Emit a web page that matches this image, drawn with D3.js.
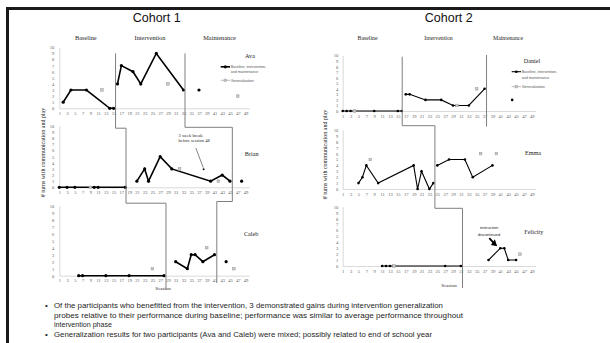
<!DOCTYPE html>
<html>
<head>
<meta charset="utf-8">
<script src="https://cdn.jsdelivr.net/npm/d3@7"></script>
<style>
  body { margin: 0; background: #fff; }
  text { font-family: "Liberation Serif", "Times New Roman", serif; }
  .tick text { fill: #595959; font-size: 4.5px; font-family: "Liberation Serif", serif; }
  .sans { font-family: "Liberation Sans", Arial, sans-serif; }
</style>
</head>
<body>
<svg id="chart" width="610" height="343"></svg>
<script>
// ---- data ----
var sessionTicks = d3.range(1, 50, 2);
var yTicks = d3.range(0, 11);

// [session, turns]
var avaBaseline = [[2, 1], [4, 3], [8, 3], [14, 0], [15, 0]];
var avaIntervention = [[16, 4], [17, 7], [20, 6], [22, 4], [26, 9], [33, 3]];
var avaMaintenance = [[37, 3]];
var avaGeneralization = [[12, 3], [29, 4], [47, 2]];

var brianBaseline = [[1, 0], [3, 0], [5, 0], [10, 0], [11, 0], [18, 0]];
var brianIntervention = [[21, 1], [23, 3], [24, 1], [27, 5], [30, 3], [40, 1], [43, 2], [45, 1]];
var brianMaintenance = [[48, 1]];
var brianGeneralization = [[9, 0], [32, 3], [42, 1]];

var calebBaseline = [[6, 0], [7, 0], [13, 0], [19, 0], [28, 0]];
var calebIntervention = [[31, 2], [34, 1], [35, 3], [36, 3], [38, 2], [41, 3]];
var calebMaintenance = [[44, 2]];
var calebGeneralization = [[25, 1], [39, 4], [46, 1]];

var danielBaseline = [[1, 0], [2, 0], [3, 0], [9, 0], [15, 0], [16, 0]];
var danielIntervention = [[17, 3], [18, 3], [22, 2], [26, 2], [29, 1], [33, 1], [37, 4]];
var danielMaintenance = [[44, 2]];
var danielGeneralization = [[4, 0], [30, 1], [35, 4]];

var emmaBaseline = [[5, 1], [6, 2], [7, 4], [10, 1], [19, 4], [20, 0], [21, 3], [23, 0], [24, 1]];
var emmaIntervention = [[25, 4], [28, 5], [32, 5], [34, 2], [39, 4]];
var emmaGeneralization = [[8, 5], [36, 6], [40, 6]];

var felicityBaseline = [[11, 0], [12, 0], [13, 0], [27, 0], [31, 0]];
var felicityIntervention = [[38, 1], [41, 3], [42, 3], [43, 1], [45, 1]];
var felicityGeneralization = [[14, 0], [46, 2]];

// phase change positions (between sessions), one per participant
var c1BaselineEnd = [15.5, 18.2, 28.5];
var c1InterventionEnd = [33.4, 45.6, 41.6];
var c2BaselineEnd = [16.1, 24.4, 31.4];
var c2InterventionEnd = [37.5];

var phaseNames = ["Baseline", "Intervention", "Maintenance"];
var yTitle = "# turns with communication and play";
var bullets = [
  "Of the participants who benefitted from the intervention, 3 demonstrated gains during intervention generalization",
  "probes relative to their performance during baseline; performance was similar to average performance throughout",
  "intervention phase",
  "Generalization results for two participants (Ava and Caleb) were mixed; possibly related to end of school year"
];

// ---- layout ----
var svg = d3.select("#chart");
svg.append("rect").attr("width", 610).attr("height", 343).attr("fill", "#fff");
svg.append("path").attr("d", "M610,8.5H7.5V343")
  .attr("fill", "none").attr("stroke", "#1a1a1a").attr("stroke-width", 3);

var x1 = d3.scaleLinear().domain([1, 50]).range([59.3, 249.4]);
var x2 = d3.scaleLinear().domain([1, 50]).range([342.7, 535.8]);

var cohorts = [
  {
    title: "Cohort 1", titleX: 156.7, x: x1, lw: 1.6, r: 1.6, pad: 5,
    phaseX: [85.8, 150, 219.5], phaseSize: 6.3, yTitleX: 43.3, yTitleY: 152.5,
    sessionX: 163, sessionY: 290,
    panels: [
      { name: "Ava", y: [108.3, 47.3], nx: 250, ny: 58, base: avaBaseline, inter: avaIntervention, maint: avaMaintenance, gen: avaGeneralization },
      { name: "Brian", y: [187.3, 126], nx: 251.7, ny: 155.5, base: brianBaseline, inter: brianIntervention, maint: brianMaintenance, gen: brianGeneralization },
      { name: "Caleb", y: [275.7, 205.7], nx: 251.2, ny: 236, base: calebBaseline, inter: calebIntervention, maint: calebMaintenance, gen: calebGeneralization }
    ],
    stairs: [[c1BaselineEnd, [53.4, 128.2, 203.2, 290]], [c1InterventionEnd, [53.4, 127.3, 201.5, 283]]],
    legend: { x: 220.7, y1: 66.8, y2: 71.3, y3: 80.3 }
  },
  {
    title: "Cohort 2", titleX: 448.8, x: x2, lw: 1.1, r: 1.3, pad: 4.4,
    phaseX: [367.5, 438.5, 508], phaseSize: 5.8, yTitleX: 325, yTitleY: 154.5,
    sessionX: 449, sessionY: 287,
    panels: [
      { name: "Daniel", y: [111, 55.5], nx: 532, ny: 63, base: danielBaseline, inter: danielIntervention, maint: danielMaintenance, gen: danielGeneralization },
      { name: "Emma", y: [189, 130], nx: 533, ny: 155, base: emmaBaseline, inter: emmaIntervention, maint: [], gen: emmaGeneralization },
      { name: "Felicity", y: [266, 206.7], nx: 533.8, ny: 234, base: felicityBaseline, inter: felicityIntervention, maint: [], gen: felicityGeneralization }
    ],
    stairs: [[c2BaselineEnd, [56.7, 125.7, 208.3, 288]], [c2InterventionEnd, [55, 126.7]]],
    legend: { x: 511.7, y1: 71.7, y2: 77.5, y3: 86.7 }
  }
];

cohorts.forEach(function (c) {
  var g = svg.append("g");
  var x = c.x;

  g.append("text").attr("class", "sans").attr("x", c.titleX).attr("y", 22)
    .attr("text-anchor", "middle").attr("font-size", 12.5).attr("fill", "#111").text(c.title);

  phaseNames.forEach(function (p, i) {
    g.append("text").attr("x", c.phaseX[i]).attr("y", 39.5).attr("text-anchor", "middle")
      .attr("font-size", c.phaseSize).attr("fill", "#222").text(p);
  });

  g.append("text").attr("transform", "translate(" + c.yTitleX + "," + c.yTitleY + ") rotate(-90)")
    .attr("text-anchor", "middle").attr("dy", "0.35em").attr("font-size", 6)
    .attr("fill", "#222").text(yTitle);

  g.append("text").attr("x", c.sessionX).attr("y", c.sessionY).attr("text-anchor", "middle")
    .attr("font-size", 5).attr("fill", "#222").text("Session");

  c.panels.forEach(function (p) {
    var y = d3.scaleLinear().domain([0, 10]).range(p.y);
    var pg = g.append("g");

    var xa = pg.append("g").attr("transform", "translate(0," + y(0) + ")")
      .call(d3.axisBottom(x).tickValues(sessionTicks).tickSize(0).tickPadding(3.5).tickFormat(d3.format("d")));
    xa.select(".domain").attr("stroke", "#d0d0d0").attr("stroke-width", 0.8);

    var ya = pg.append("g").attr("transform", "translate(" + x(1) + ",0)")
      .call(d3.axisLeft(y).tickValues(yTicks).tickSize(0).tickPadding(c.pad));
    ya.select(".domain").attr("stroke", "#d0d0d0").attr("stroke-width", 0.8);

    var line = d3.line().x(function (d) { return x(d[0]); }).y(function (d) { return y(d[1]); });

    [p.base, p.inter, p.maint].forEach(function (s) {
      if (s.length > 1) {
        pg.append("path").attr("d", line(s)).attr("fill", "none")
          .attr("stroke", "#000").attr("stroke-width", c.lw);
      }
      pg.selectAll(null).data(s).enter().append("circle")
        .attr("cx", function (d) { return x(d[0]); })
        .attr("cy", function (d) { return y(d[1]); })
        .attr("r", c.r).attr("fill", "#000");
    });

    pg.selectAll(null).data(p.gen).enter().append("rect")
      .attr("x", function (d) { return x(d[0]) - 1.3; })
      .attr("y", function (d) { return y(d[1]) - 1.3; })
      .attr("width", 2.6).attr("height", 2.6)
      .attr("fill", "#c8c8c8").attr("stroke", "#9a9a9a").attr("stroke-width", 0.5);

    pg.append("text").attr("x", p.nx).attr("y", p.ny).attr("text-anchor", "middle")
      .attr("font-size", 6.2).attr("fill", "#222").text(p.name);
  });

  // phase change lines
  c.stairs.forEach(function (st) {
    var xs = st[0], ys = st[1];
    var d = "M" + x(xs[0]) + "," + ys[0];
    xs.forEach(function (s, i) {
      if (i > 0) d += "H" + x(s);
      d += "V" + ys[i + 1];
    });
    g.append("path").attr("d", d).attr("fill", "none")
      .attr("stroke", "#7f7f7f").attr("stroke-width", 1);
  });

  // legend
  var L = c.legend;
  g.append("line").attr("x1", L.x).attr("x2", L.x + 9.3).attr("y1", L.y1).attr("y2", L.y1)
    .attr("stroke", "#000").attr("stroke-width", c.lw);
  g.append("circle").attr("cx", L.x + 4.6).attr("cy", L.y1).attr("r", c.r).attr("fill", "#000");
  g.append("text").attr("class", "sans").attr("x", L.x + 10).attr("y", L.y1).attr("dy", "0.35em")
    .attr("font-size", 3.6).attr("fill", "#555").text("Baseline, intervention,");
  g.append("text").attr("class", "sans").attr("x", L.x + 10).attr("y", L.y2).attr("dy", "0.35em")
    .attr("font-size", 3.6).attr("fill", "#555").text("and maintenance");
  g.append("line").attr("x1", L.x).attr("x2", L.x + 9.3).attr("y1", L.y3).attr("y2", L.y3)
    .attr("stroke", "#aaa").attr("stroke-width", 0.8);
  g.append("rect").attr("x", L.x + 3.4).attr("y", L.y3 - 1.2).attr("width", 2.4).attr("height", 2.4)
    .attr("fill", "#c8c8c8").attr("stroke", "#9a9a9a").attr("stroke-width", 0.5);
  g.append("text").attr("class", "sans").attr("x", L.x + 10).attr("y", L.y3).attr("dy", "0.35em")
    .attr("font-size", 3.6).attr("fill", "#555").text("Generalization");
});

// annotations
var yBrian = d3.scaleLinear().domain([0, 10]).range([187.3, 126]);
svg.append("text").attr("x", 178.5).attr("y", 136.5).attr("font-size", 4.5).attr("fill", "#222").text("3 week break");
svg.append("text").attr("x", 178.5).attr("y", 141.8).attr("font-size", 4.5).attr("fill", "#222").text("before session 48");
svg.append("line").attr("x1", x1(36.2)).attr("y1", yBrian(6.4)).attr("x2", x1(38.1)).attr("y2", yBrian(3.2))
  .attr("stroke", "#333").attr("stroke-width", 0.6);
svg.append("circle").attr("cx", x1(38.2)).attr("cy", yBrian(2.95)).attr("r", 1).attr("fill", "#111");

var yFel = d3.scaleLinear().domain([0, 10]).range([266, 206.7]);
svg.append("text").attr("class", "sans").attr("x", 489).attr("y", 229).attr("text-anchor", "middle")
  .attr("font-size", 4).attr("fill", "#222").text("instruction");
svg.append("text").attr("class", "sans").attr("x", 489).attr("y", 235.6).attr("text-anchor", "middle")
  .attr("font-size", 4).attr("fill", "#222").text("discontinued");
svg.append("line").attr("x1", x2(38.2)).attr("y1", yFel(4.7)).attr("x2", x2(39.3)).attr("y2", yFel(3.9))
  .attr("stroke", "#000").attr("stroke-width", 1.8);
svg.append("path")
  .attr("d", "M" + (x2(40.2)) + "," + yFel(3.35) + "L" + (x2(38.6)) + "," + yFel(3.55) + "L" + (x2(39.6)) + "," + yFel(4.5) + "Z")
  .attr("fill", "#000");

// bullet text
var bx = 54, by = [308, 317.5, 327, 336.5], bw = [389, 409, 58, 378];
bullets.forEach(function (t, i) {
  svg.append("text").attr("class", "sans").attr("x", bx).attr("y", by[i])
    .attr("font-size", 8).attr("fill", "#262626")
    .attr("textLength", bw[i]).attr("lengthAdjust", "spacingAndGlyphs").text(t);
});
[0, 3].forEach(function (i) {
  svg.append("text").attr("class", "sans").attr("x", 45).attr("y", by[i])
    .attr("font-size", 8).attr("fill", "#262626").text("•");
});
</script>
</body>
</html>
